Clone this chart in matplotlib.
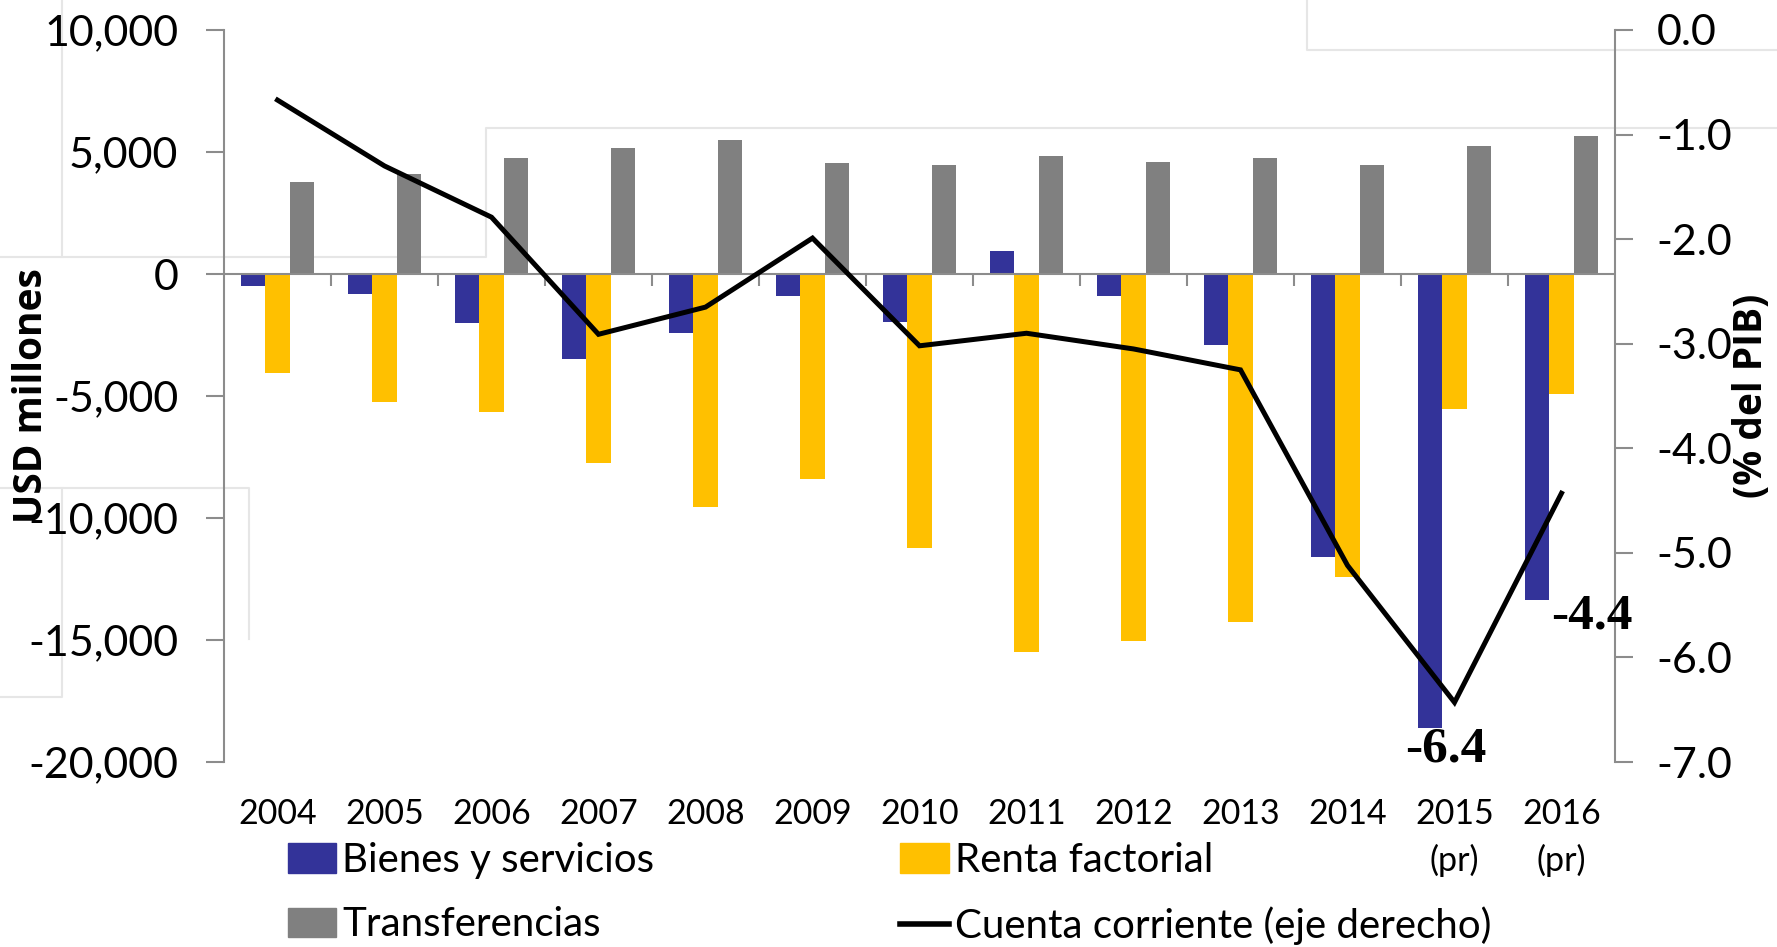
import matplotlib
matplotlib.use("Agg")
import matplotlib.pyplot as plt
from matplotlib.lines import Line2D
from matplotlib.patches import Patch
import numpy as np

plt.rcParams["font.family"] = ["Lato", "DejaVu Sans"]
plt.rcParams["axes.unicode_minus"] = False

years = ["2004", "2005", "2006", "2007", "2008", "2009", "2010",
         "2011", "2012", "2013", "2014", "2015\n(pr)", "2016\n(pr)"]
bienes = [-500, -800, -2000, -3500, -2400, -900, -1950,
          950, -900, -2900, -11600, -18600, -13350]
renta = [-4050, -5250, -5650, -7750, -9550, -8400, -11250,
         -15500, -15050, -14250, -12400, -5530, -4900]
transf = [3750, 4100, 4750, 5150, 5500, 4550, 4450,
          4850, 4600, 4750, 4470, 5250, 5650]
cuenta = [-0.67, -1.30, -1.79, -2.91, -2.65, -1.99, -3.02,
          -2.90, -3.05, -3.25, -5.12, -6.43, -4.43]

BLUE = "#333399"
YELLOW = "#FFC000"
GRAY = "#808080"
AXC = "#8c8c8c"

fig = plt.figure(figsize=(17.77, 9.47), dpi=100)
fig.patch.set_facecolor("white")

# faint leftover frame lines from the source screenshot
W, H = 1777, 947
def fl(xs, ys):
    fig.add_artist(Line2D([x / W for x in xs], [1 - y / H for y in ys],
                          color="#e6e6e6", lw=1.5, zorder=0))
fl([62, 62], [0, 257])
fl([0, 486, 486, 1777], [257, 257, 128, 128])
fl([1307, 1307, 1777], [0, 50, 50])
fl([0, 249, 249], [488, 488, 639])
fl([62, 62, 0], [488, 697, 697])

ax = fig.add_axes([224 / W, 1 - 762 / H, (1615 - 224) / W, (762 - 30) / H])
ax.set_facecolor("none")
x = np.arange(len(years))
w = 0.23
ax.bar(x - w, bienes, w, color=BLUE, zorder=2)
ax.bar(x, renta, w, color=YELLOW, zorder=2)
ax.bar(x + w, transf, w, color=GRAY, zorder=2)
ax.axhline(0, color=AXC, lw=1.5, zorder=3)
ax.vlines(x[:-1] + 0.5, -500, 0, color=AXC, lw=1.5, zorder=3)

ax.set_xlim(-0.5, len(years) - 0.5)
ax.set_ylim(-20000, 10000)
ax.set_yticks(np.arange(-20000, 10001, 5000))
ax.set_yticklabels([f"{v:,}" for v in range(-20000, 10001, 5000)], fontsize=31)
ax.set_xticks(x)
ax.set_xticklabels(years, fontsize=24.5, linespacing=1.5)
ax.tick_params(axis="x", length=0, pad=26)
ax.tick_params(axis="y", length=13, width=1.5, color=AXC, pad=20)
for s in ["top", "right", "bottom"]:
    ax.spines[s].set_visible(False)
ax.spines["left"].set_color(AXC)
ax.spines["left"].set_linewidth(1.5)
ax.set_ylabel("USD millones", fontsize=28, fontweight="bold",
              family=["Open Sans", "DejaVu Sans"], zorder=5)
ax.yaxis.set_label_coords(-0.1244, 0.5)

ax2 = ax.twinx()
ax2.plot(x, cuenta, color="black", lw=3.6, zorder=4, solid_joinstyle="miter")
ax2.set_ylim(-7, 0)
ax2.set_yticks(np.arange(-7, 0.01, 1))
ax2.set_yticklabels([f"{v:.1f}" for v in np.arange(-7, 0.01, 1)], fontsize=31)
ax2.tick_params(axis="y", length=13, width=1.5, color=AXC, pad=17)
for s in ["top", "left", "bottom"]:
    ax2.spines[s].set_visible(False)
ax2.spines["right"].set_color(AXC)
ax2.spines["right"].set_linewidth(1.5)
ax2.set_ylabel("(% del PIB)", fontsize=28, fontweight="bold",
               family=["Open Sans", "DejaVu Sans"])
ax2.yaxis.set_label_coords(1.084, 0.5)

ax2.annotate(f"{cuenta[11]:.1f}", (x[11], cuenta[11]), xytext=(-6, -34),
             textcoords="offset points", ha="center", va="center",
             fontsize=37, fontweight="bold", family="Liberation Serif")
ax2.annotate(f"{cuenta[12]:.1f}", (x[12], cuenta[12]), xytext=(22, -89),
             textcoords="offset points", ha="center", va="center",
             fontsize=37, fontweight="bold", family="Liberation Serif")

handles = [Patch(color=BLUE), Patch(color=GRAY), Patch(color=YELLOW),
           Line2D([], [], color="black", lw=4)]
labels = ["Bienes y servicios", "Transferencias", "Renta factorial",
          "Cuenta corriente (eje derecho)"]
fig.legend(handles, labels, loc="upper left", bbox_to_anchor=(288 / W, 1 - 842 / H),
           ncol=2, frameon=False, fontsize=29, handlelength=1.2, handleheight=0.75,
           handletextpad=0.15, columnspacing=6.1, labelspacing=0.68, borderpad=0,
           borderaxespad=0)

fig.savefig("out.png", dpi=100, facecolor="white")
